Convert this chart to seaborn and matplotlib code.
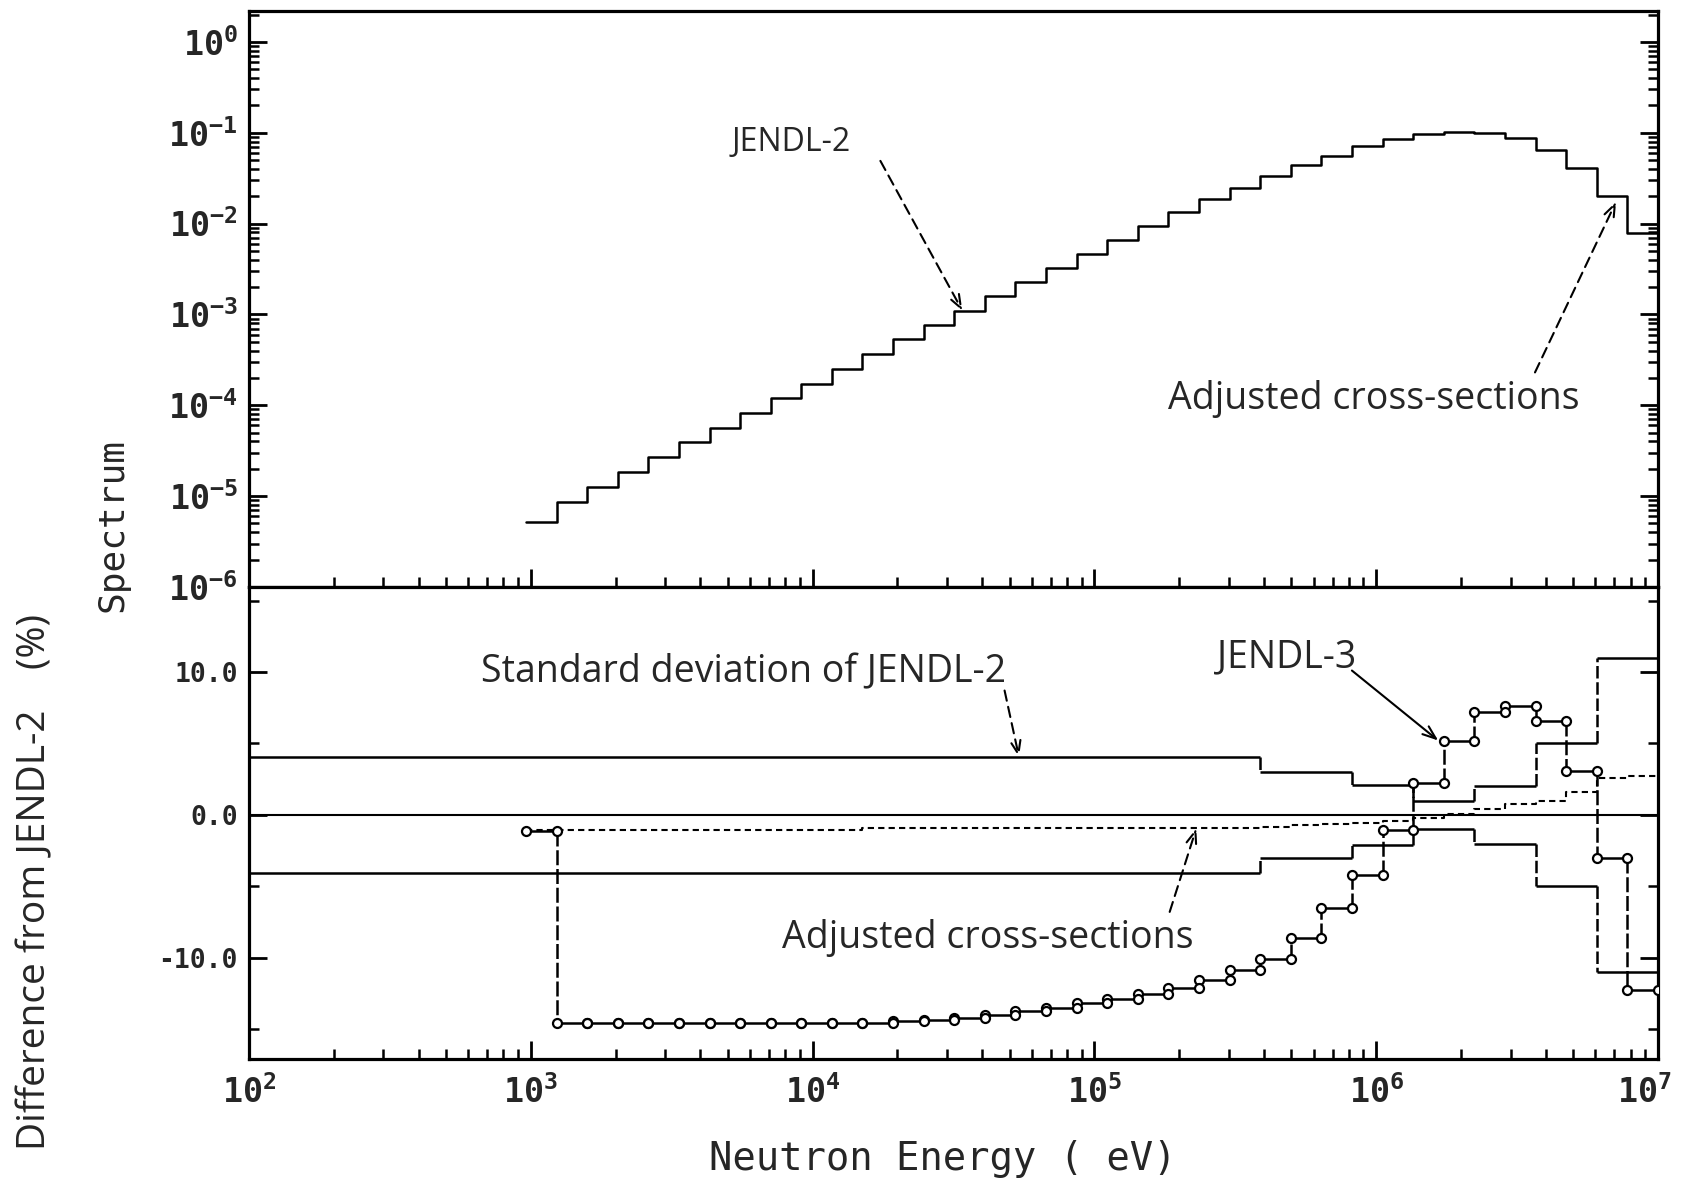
import numpy as np
import pandas as pd
import matplotlib
matplotlib.use("Agg")
import matplotlib.pyplot as plt
import matplotlib.transforms as mtransforms
import seaborn as sns
from matplotlib.ticker import LogLocator, NullFormatter, FixedLocator, FixedFormatter

sns.set_theme(style="white")
plt.rcParams["font.family"] = ["DejaVu Sans"]
plt.rcParams["mathtext.fontset"] = "custom"
plt.rcParams["mathtext.rm"] = "DejaVu Sans Mono:bold"
plt.rcParams["mathtext.default"] = "rm"

# ---------------- data ----------------
# energy group boundaries (eV)
energy_edges = [961, 1234, 1585, 2035, 2613, 3355, 4307, 5531, 7102, 9119,
                11709, 15034, 19305, 24788, 31828, 40868, 52475, 67379, 86517,
                111090, 142640, 183160, 235180, 301970, 387740, 497870, 639280,
                820850, 1053990, 1353350, 1737740, 2231300, 2865050, 3678790,
                4723670, 6065310, 7788010, 10000000]

# JENDL-2 spectrum per group
spectrum_jendl2 = [5.16e-6, 8.65e-6, 1.25e-5, 1.85e-5, 2.68e-5, 3.92e-5, 5.64e-5,
                   8.24e-5, 1.21e-4, 1.73e-4, 2.51e-4, 3.67e-4, 5.37e-4, 7.67e-4,
                   1.10e-3, 1.58e-3, 2.28e-3, 3.25e-3, 4.67e-3, 6.53e-3, 9.31e-3,
                   1.33e-2, 1.87e-2, 2.47e-2, 3.37e-2, 4.45e-2, 5.59e-2, 7.06e-2,
                   8.53e-2, 9.75e-2, 0.102, 0.0993, 0.0875, 0.0638, 0.0408,
                   0.0203, 0.0078]

# difference from JENDL-2 (%)
diff_jendl3 = [-1.15, -14.55, -14.55, -14.55, -14.55, -14.55, -14.55, -14.55,
               -14.55, -14.55, -14.55, -14.55, -14.45, -14.35, -14.2, -14.0,
               -13.75, -13.5, -13.2, -12.9, -12.55, -12.1, -11.6, -10.9, -10.1,
               -8.6, -6.5, -4.2, -1.1, 2.2, 5.2, 7.2, 7.6, 6.6, 3.1, -3.0, -12.3]

diff_adjusted = [-1.05, -1.05, -1.05, -1.05, -1.05, -1.05, -1.05, -1.05, -1.05,
                 -1.05, -1.05, -0.95, -0.95, -0.95, -0.95, -0.95, -0.95, -0.95,
                 -0.95, -0.95, -0.95, -0.95, -0.95, -0.95, -0.85, -0.75, -0.65,
                 -0.55, -0.4, -0.2, 0.05, 0.4, 0.75, 1.0, 1.6, 2.6, 2.75]

std_edges = [100, 387740, 820850, 1353350, 2231300, 3678790, 6065310, 10000000]
std_jendl2 = [4.05, 3.0, 2.1, 1.0, 2.05, 5.0, 11.0]

x_tick_values = [1e2, 1e3, 1e4, 1e5, 1e6, 1e7]
x_tick_labels = ["$10^{2}$", "$10^{3}$", "$10^{4}$", "$10^{5}$", "$10^{6}$", "$10^{7}$"]
y_top_ticks = [1e-6, 1e-5, 1e-4, 1e-3, 1e-2, 1e-1, 1e0]
y_top_labels = ["$10^{-6}$", "$10^{-5}$", "$10^{-4}$", "$10^{-3}$", "$10^{-2}$", "$10^{-1}$", "$10^{0}$"]
y_bot_ticks = [-10.0, 0.0, 10.0]
y_bot_labels = ["-10.0", "0.0", "10.0"]

# ---------------- figure ----------------
W, H = 1682, 1182
fig = plt.figure(figsize=(W / 100, H / 100), dpi=100)
fig.patch.set_facecolor("white")
ax1 = fig.add_axes([249 / W, 1 - 587 / H, 1409 / W, 576 / H])
ax2 = fig.add_axes([249 / W, 1 - 1059 / H, 1409 / W, 472 / H])

LW = 1.8
ann_font = ["Open Sans", "DejaVu Sans"]
ANN = 27

# ---- top panel: spectrum ----
df_spec = pd.DataFrame({"E": energy_edges,
                        "phi": spectrum_jendl2 + [spectrum_jendl2[-1]]})
sns.lineplot(data=df_spec, x="E", y="phi", ax=ax1, color="black", lw=LW,
             drawstyle="steps-post", estimator=None, sort=False)
ax1.set_xscale("log")
ax1.set_yscale("log")
ax1.set_xlim(1e2, 1e7)
ax1.set_ylim(1e-6, 10 ** 0.34)

# ---- bottom panel: differences ----
e_lo = np.array(energy_edges[:-1], dtype=float)
e_hi = np.array(energy_edges[1:], dtype=float)
j3 = np.array(diff_jendl3)

ax2.axhline(0.0, color="black", lw=1.5)

# standard deviation band (upper and lower)
s_lo = np.array(std_edges[:-1], dtype=float)
s_hi = np.array(std_edges[1:], dtype=float)
sd = np.array(std_jendl2)
for sign in (1, -1):
    ax2.hlines(sign * sd, s_lo, s_hi, color="black", lw=LW)
    ax2.vlines(s_hi[:-1], sign * sd[:-1], sign * sd[1:], color="black", lw=LW,
               linestyles=[(0, (5, 1.5))] * (len(sd) - 1))

# adjusted cross-sections
df_adj = pd.DataFrame({"E": energy_edges, "d": diff_adjusted + [diff_adjusted[-1]]})
sns.lineplot(data=df_adj, x="E", y="d", ax=ax2, color="black", lw=1.5,
             drawstyle="steps-post", estimator=None, sort=False,
             linestyle=(0, (3, 2)))

# JENDL-3
ax2.hlines(j3, e_lo, e_hi, color="black", lw=LW)
ax2.vlines(e_hi[:-1], j3[:-1], j3[1:], color="black", lw=LW,
           linestyles=[(0, (6, 1.5))] * (len(j3) - 1))
df_pts = pd.DataFrame({"E": np.concatenate([e_lo, e_hi]),
                       "d": np.concatenate([j3, j3])})
sns.scatterplot(data=df_pts, x="E", y="d", ax=ax2, s=42, marker="o",
                facecolor="white", edgecolor="black", linewidth=1.6, zorder=5,
                legend=False)

ax2.set_xscale("log")
ax2.set_xlim(1e2, 1e7)
ax2.set_ylim(-17.1, 15.95)

# ---------------- axes styling ----------------
for ax in (ax1, ax2):
    ax.set_xlabel("")
    ax.set_ylabel("")
    ax.set_facecolor("white")
    for s in ax.spines.values():
        s.set_color("black")
        s.set_linewidth(2.3)
    ax.tick_params(which="both", direction="in", color="black",
                   left=True, right=True, bottom=True, top=False)
    ax.tick_params(which="major", length=13, width=2.0)
    ax.tick_params(which="minor", length=7, width=1.8)
    ax.xaxis.set_major_locator(FixedLocator(x_tick_values))
    ax.xaxis.set_minor_locator(LogLocator(base=10, subs=np.arange(2, 10), numticks=20))
    ax.xaxis.set_minor_formatter(NullFormatter())

ax1.xaxis.set_major_formatter(NullFormatter())
ax1.yaxis.set_major_locator(FixedLocator(y_top_ticks))
ax1.yaxis.set_major_formatter(FixedFormatter(y_top_labels))
ax1.yaxis.set_minor_locator(LogLocator(base=10, subs=np.arange(2, 10), numticks=20))
ax1.yaxis.set_minor_formatter(NullFormatter())
ax1.tick_params(axis="y", labelsize=24, pad=8, labelright=False)

ax2.xaxis.set_major_formatter(FixedFormatter(x_tick_labels))
ax2.tick_params(axis="x", labelsize=24, pad=12)
ax2.yaxis.set_major_locator(FixedLocator(y_bot_ticks))
ax2.yaxis.set_major_formatter(FixedFormatter(y_bot_labels))
ax2.yaxis.set_minor_locator(FixedLocator([-15, -5, 5, 15]))
ax2.tick_params(axis="y", labelsize=19, pad=8, labelright=False)
for lab in ax2.get_yticklabels():
    lab.set_family("DejaVu Sans Mono")
    lab.set_weight("bold")

# keep the last x tick label (10^7) inside the canvas
fig.canvas.draw()
shift = mtransforms.ScaledTranslation(-14 / 100, 0, fig.dpi_scale_trans)
last_lab = ax2.xaxis.get_major_ticks()[-1].label1
last_lab.set_transform(last_lab.get_transform() + shift)

# ---------------- annotations ----------------
dash_arrow = dict(arrowstyle="->,head_length=0.8,head_width=0.3", color="black",
                  lw=1.5, linestyle=(0, (5, 3)), shrinkA=0, shrinkB=0)
solid_arrow = dict(arrowstyle="->,head_length=0.8,head_width=0.3", color="black",
                   lw=1.5, shrinkA=0, shrinkB=0)

ax1.text(8.4e3, 7.8e-2, "JENDL-2", fontsize=23, family=ann_font,
         ha="center", va="center")
ax1.annotate("", xy=(3.4e4, 1.1e-3), xytext=(1.74e4, 4.9e-2), arrowprops=dash_arrow)
ax1.text(9.8e5, 1.17e-4, "Adjusted cross-sections", fontsize=ANN, family=ann_font,
         ha="center", va="center")
ax1.annotate("", xy=(7.1e6, 1.74e-2), xytext=(3.66e6, 2.3e-4), arrowprops=dash_arrow)

ax2.text(5.7e3, 10.0, "Standard deviation of JENDL-2", fontsize=ANN, family=ann_font,
         ha="center", va="center")
ax2.annotate("", xy=(5.4e4, 4.05), xytext=(4.8e4, 8.7), arrowprops=dash_arrow)
ax2.text(4.8e5, 11.0, "JENDL-3", fontsize=ANN, family=ann_font,
         ha="center", va="center")
ax2.annotate("", xy=(1.66e6, 5.2), xytext=(8.2e5, 10.1), arrowprops=solid_arrow)
ax2.text(4.2e4, -8.6, "Adjusted cross-sections", fontsize=ANN, family=ann_font,
         ha="center", va="center")
ax2.annotate("", xy=(2.3e5, -0.95), xytext=(1.85e5, -6.8), arrowprops=dash_arrow)

# ---------------- axis titles ----------------
fig.text(113 / W, 1 - 525 / H, "Spectrum", rotation=90, fontsize=26,
         family="DejaVu Sans Mono", ha="center", va="center")
fig.text(35 / W, 1 - 882 / H, "Difference from JENDL-2    (%)", rotation=90,
         fontsize=28, family=ann_font, ha="center", va="center")
fig.text(943 / W, 1 - 1159 / H, "Neutron Energy ( eV)", fontsize=28,
         family="DejaVu Sans Mono", ha="center", va="center")

fig.savefig("out.png", dpi=100, facecolor="white")
